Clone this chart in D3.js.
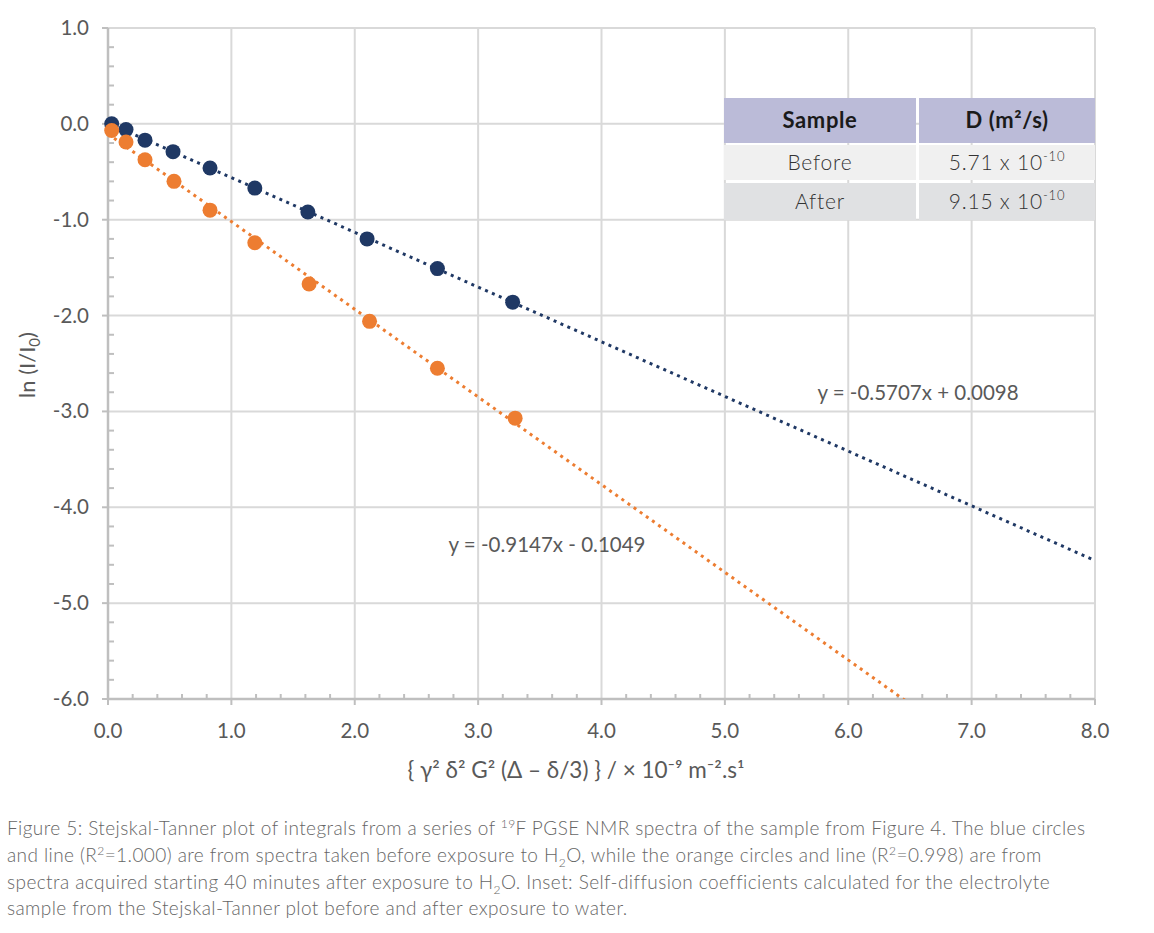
<!DOCTYPE html>
<html>
<head>
<meta charset="utf-8">
<script src="https://cdn.jsdelivr.net/npm/d3@7"></script>
<style>
  body { margin: 0; background: #fff; }
  svg { display: block; }
</style>
</head>
<body>
<div id="chart"></div>
<script>
// data
var xBefore = [0.03, 0.146, 0.30, 0.527, 0.827, 1.19, 1.62, 2.10, 2.67, 3.28];
var lnBefore = [0.0, -0.06, -0.17, -0.29, -0.46, -0.67, -0.92, -1.20, -1.51, -1.86];
var xAfter = [0.03, 0.146, 0.30, 0.535, 0.827, 1.19, 1.63, 2.12, 2.67, 3.30];
var lnAfter = [-0.07, -0.19, -0.375, -0.60, -0.90, -1.24, -1.67, -2.06, -2.55, -3.07];

var seriesNames = ["Before", "After"];
var slopes = [-0.5707, -0.9147];
var intercepts = [0.0098, -0.1049];
var equations = ["y = -0.5707x + 0.0098", "y = -0.9147x - 0.1049"];
var eqPos = [[5.75, -2.88], [2.76, -4.47]]; // label anchor in data units
var diffusion = ["5.71 x 10", "9.15 x 10"];
var xTicks = [0, 1, 2, 3, 4, 5, 6, 7, 8];
var yTicks = [1, 0, -1, -2, -3, -4, -5, -6];

var colors = ["#1f3864", "#ed7d31"];
var tickFont = "Lato, 'Open Sans', sans-serif";
var capFont = "Lato, 'Noto Sans', sans-serif";

var W = 1154, H = 933;
var svg = d3.select("#chart").append("svg").attr("width", W).attr("height", H);

var x = d3.scaleLinear().domain([0, 8]).range([108, 1095]);
var y = d3.scaleLinear().domain([-6, 1]).range([699, 28]);

// clip for trendlines
svg.append("clipPath").attr("id", "plotclip")
  .append("rect")
  .attr("x", x(0)).attr("y", y(1))
  .attr("width", x(8) - x(0)).attr("height", y(-6) - y(1));

// grid
svg.append("g").selectAll("line").data(xTicks.slice(1)).enter().append("line")
  .attr("x1", function (d) { return x(d) }).attr("x2", function (d) { return x(d) })
  .attr("y1", y(1)).attr("y2", y(-6))
  .style("stroke", "#d9d9d9").style("stroke-width", 2);
svg.append("g").selectAll("line").data(yTicks.slice(0, -1)).enter().append("line")
  .attr("x1", x(0)).attr("x2", x(8))
  .attr("y1", function (d) { return y(d) }).attr("y2", function (d) { return y(d) })
  .style("stroke", "#d9d9d9").style("stroke-width", 2);

// axes lines
var axisCol = "#bfbfbf";
svg.append("line").attr("x1", x(0)).attr("x2", x(0)).attr("y1", y(1)).attr("y2", y(-6))
  .style("stroke", axisCol).style("stroke-width", 2.5);
svg.append("line").attr("x1", x(0)).attr("x2", x(8)).attr("y1", y(-6)).attr("y2", y(-6))
  .style("stroke", axisCol).style("stroke-width", 2.5);

// y ticks: major outside, minor inside
var yMinor = d3.range(-6, 1.001, 0.2).filter(function (v) { return Math.abs(v - Math.round(v)) > 0.01 });
svg.append("g").selectAll("line").data(yTicks).enter().append("line")
  .attr("x1", x(0) - 6).attr("x2", x(0))
  .attr("y1", function (d) { return y(d) }).attr("y2", function (d) { return y(d) })
  .style("stroke", axisCol).style("stroke-width", 2);
svg.append("g").selectAll("line").data(yMinor).enter().append("line")
  .attr("x1", x(0)).attr("x2", x(0) + 6)
  .attr("y1", function (d) { return y(d) }).attr("y2", function (d) { return y(d) })
  .style("stroke", axisCol).style("stroke-width", 2);

// x ticks: major outside, minor inside
var xMinor = d3.range(0, 8.001, 0.2).filter(function (v) { return Math.abs(v - Math.round(v)) > 0.01 });
svg.append("g").selectAll("line").data(xTicks).enter().append("line")
  .attr("x1", function (d) { return x(d) }).attr("x2", function (d) { return x(d) })
  .attr("y1", y(-6)).attr("y2", y(-6) + 6)
  .style("stroke", axisCol).style("stroke-width", 2);
svg.append("g").selectAll("line").data(xMinor).enter().append("line")
  .attr("x1", function (d) { return x(d) }).attr("x2", function (d) { return x(d) })
  .attr("y1", y(-6) - 5).attr("y2", y(-6))
  .style("stroke", axisCol).style("stroke-width", 2);

// tick labels
svg.append("g").selectAll("text").data(yTicks).enter().append("text")
  .attr("x", 89).attr("y", function (d) { return y(d) + 7 })
  .attr("text-anchor", "end")
  .style("font-family", tickFont).style("font-size", "20.5px").style("fill", "#595959")
  .text(function (d) { return d.toFixed(1) });
svg.append("g").selectAll("text").data(xTicks).enter().append("text")
  .attr("x", function (d) { return x(d) }).attr("y", 738)
  .attr("text-anchor", "middle")
  .style("font-family", tickFont).style("font-size", "20.5px").style("fill", "#595959")
  .text(function (d) { return d.toFixed(1) });

// axis titles
var yt = svg.append("text")
  .attr("transform", "translate(35,365) rotate(-90)")
  .attr("text-anchor", "middle")
  .style("font-family", tickFont).style("font-size", "22px").style("fill", "#595959");
yt.append("tspan").text("ln (I/I");
yt.append("tspan").attr("dy", 5).style("font-size", "15px").text("0");
yt.append("tspan").attr("dy", -5).text(")");

svg.append("text")
  .attr("x", 576).attr("y", 778)
  .attr("text-anchor", "middle")
  .style("font-family", tickFont).style("font-size", "22.5px").style("fill", "#595959")
  .text("{ γ² δ² G² (Δ – δ/3) } / × 10⁻⁹ m⁻².s¹");

// trendlines
var trend = svg.append("g").attr("clip-path", "url(#plotclip)");
seriesNames.forEach(function (s, i) {
  var pts = [0, 8].map(function (v) { return [x(v), y(slopes[i] * v + intercepts[i])] });
  trend.append("path")
    .attr("d", d3.line()(pts))
    .style("fill", "none")
    .style("stroke", colors[i])
    .style("stroke-width", 3)
    .style("stroke-dasharray", "3 4.5");
});

// markers
var xs = [xBefore, xAfter], ys = [lnBefore, lnAfter];
seriesNames.forEach(function (s, i) {
  svg.append("g").selectAll("circle").data(d3.range(xs[i].length)).enter().append("circle")
    .attr("cx", function (d) { return x(xs[i][d]) })
    .attr("cy", function (d) { return y(ys[i][d]) })
    .attr("r", 7.5)
    .style("fill", colors[i]);
});

// equation labels
equations.forEach(function (e, i) {
  svg.append("text")
    .attr("x", x(eqPos[i][0])).attr("y", y(eqPos[i][1]))
    .style("font-family", tickFont).style("font-size", "20.5px").style("fill", "#595959")
    .text(e);
});

// inset table
var tx = [724, 919], tw = [192, 176];
var rowsY = [98, 145, 183], rowsH = [45, 35, 37];
var rowFill = ["#bbbbd8", "#f0f0f0", "#e0e1e3"];
var cells = [["Sample", "D (m²/s)"], ["Before", diffusion[0]], ["After", diffusion[1]]];
cells.forEach(function (row, r) {
  row.forEach(function (c, k) {
    svg.append("rect")
      .attr("x", tx[k]).attr("y", rowsY[r]).attr("width", tw[k]).attr("height", rowsH[r])
      .style("fill", rowFill[r]);
    var t = svg.append("text")
      .attr("x", tx[k] + tw[k] / 2).attr("y", rowsY[r] + rowsH[r] / 2 + 7)
      .attr("text-anchor", "middle")
      .style("font-family", capFont).style("font-size", r == 0 ? "22px" : "21px")
      .style("letter-spacing", r == 0 ? "0.6px" : "0.8px")
      .style("font-weight", r == 0 ? 700 : 300)
      .style("fill", r == 0 ? "#1a1a1a" : "#333");
    t.append("tspan").text(c);
    if (r > 0 && k == 1) t.append("tspan").attr("dy", -9).style("font-size", "13px").text("-10");
  });
});

// caption
var cap = svg.append("text")
  .style("font-family", capFont).style("font-size", "19px").style("font-weight", 300)
  .style("letter-spacing", "0.42px")
  .style("fill", "#666");
function line(yy) { return cap.append("tspan").attr("x", 7).attr("y", yy) }
// small raised / lowered piece, then the rest of the line back on baseline
function sup(t, s, rest) {
  t.append("tspan").attr("dy", -7).style("font-size", "12px").text(s);
  t.append("tspan").attr("dy", 7).text(rest);
}
function sub(t, s, rest) {
  t.append("tspan").attr("dy", 5).style("font-size", "12px").text(s);
  t.append("tspan").attr("dy", -5).text(rest);
}

var l1 = line(835);
l1.append("tspan").text("Figure 5: Stejskal-Tanner plot of integrals from a series of ");
sup(l1, "19", "F PGSE NMR spectra of the sample from Figure 4. The blue circles");

var l2 = line(862);
l2.append("tspan").text("and line (R");
sup(l2, "2", "=1.000) are from spectra taken before exposure to H");
sub(l2, "2", "O, while the orange circles and line (R");
sup(l2, "2", "=0.998) are from");

var l3 = line(889);
l3.append("tspan").text("spectra acquired starting 40 minutes after exposure to H");
sub(l3, "2", "O. Inset: Self-diffusion coefficients calculated for the electrolyte");

var l4 = line(915);
l4.append("tspan").text("sample from the Stejskal-Tanner plot before and after exposure to water.");
</script>
</body>
</html>
